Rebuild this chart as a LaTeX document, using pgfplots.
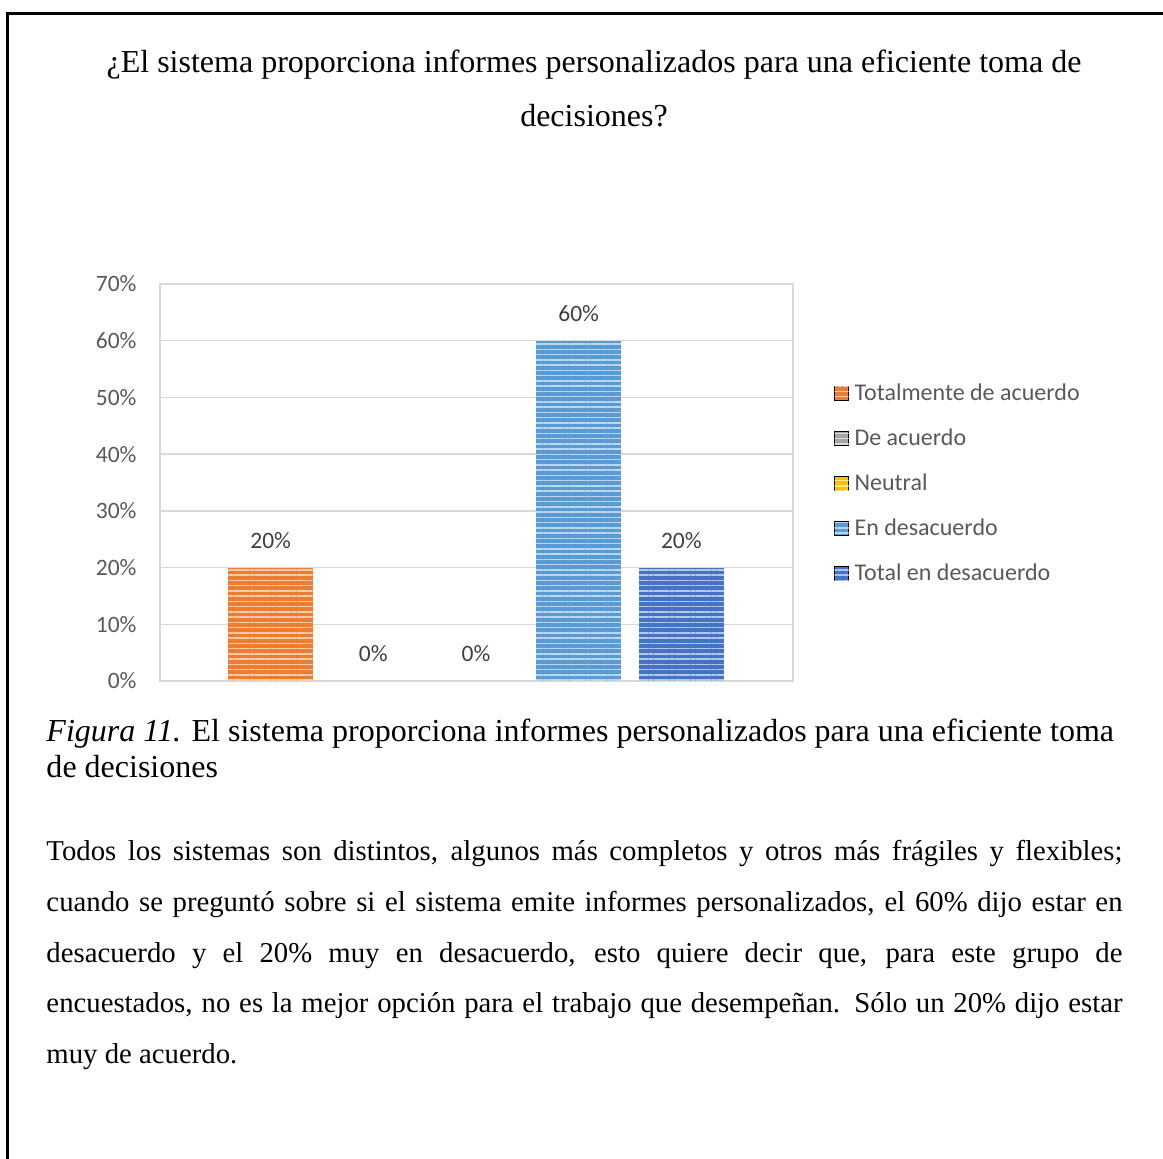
\documentclass[border=0pt]{standalone}
\usepackage{pgfplots}
\pgfplotsset{compat=1.18}
\usetikzlibrary{patterns.meta}
\usepackage{fontspec}
\setmainfont{Liberation Serif}
\newfontfamily\calibri{Carlito}
\definecolor{cOr}{HTML}{ED7D31}
\definecolor{cGr}{HTML}{A5A5A5}
\definecolor{cYe}{HTML}{FFC000}
\definecolor{cLb}{HTML}{5B9BD5}
\definecolor{cDb}{HTML}{4472C4}
\definecolor{cGrid}{HTML}{D9D9D9}
\definecolor{cTick}{HTML}{595959}
\definecolor{cLab}{HTML}{404040}
\pgfplotsset{
  sqlegend/.style={legend image code/.code={\draw[##1] (0pt,-2.8pt) rectangle (5.6pt,2.8pt); \path (8pt,0pt);}},
  stripe/.style={draw=none, fill=#1, postaction={pattern={Lines[angle=0,distance=2.1pt,line width=0.6pt]}, pattern color=#1!40!white}},
}
\newcommand\chartfont{\calibri\fontsize{9.4}{11}\selectfont}
\newcommand\legfont{\calibri\fontsize{9.6}{11}\selectfont}
\begin{document}
\begin{tikzpicture}[x=0.4pt,y=0.4pt]
\useasboundingbox (0,0) rectangle (1163,1158);
\draw[line width=1.1pt] (7.5,-20) -- (7.5,1144.5) -- (1180,1144.5);
\node[anchor=base, inner sep=0pt, font=\fontsize{12.8}{14}\selectfont] at (594,1085) {¿El sistema proporciona informes personalizados para una eficiente toma de};
\node[anchor=base, inner sep=0pt, font=\fontsize{12.8}{14}\selectfont] at (594,1031) {decisiones?};
\node[anchor=base west, inner sep=0pt, font=\fontsize{12.8}{14}\selectfont] at (46,416) {\textit{Figura 11.} El sistema proporciona informes personalizados para una eficiente toma};
\node[anchor=base west, inner sep=0pt, font=\fontsize{12.8}{14}\selectfont] at (46,380) {de decisiones};
\node[anchor=base west, inner sep=0pt] at (46,297) {\parbox[t]{430.4pt}{\fontsize{11.5}{20.25}\selectfont\hyphenpenalty=10000\tolerance=10000\emergencystretch=20pt
Todos los sistemas son distintos, algunos más completos y otros más frágiles y flexibles;\linebreak
cuando se preguntó sobre si el sistema emite informes personalizados, el 60\% dijo estar en\linebreak
desacuerdo y el 20\% muy en desacuerdo, esto quiere decir que, para este grupo de\linebreak
encuestados, no es la mejor opción para el trabajo que desempeñan. Sólo un 20\% dijo estar\linebreak
muy de acuerdo.}};
\begin{axis}[
  at={(64pt,190.8pt)}, anchor=south west,
  width=253.2pt, height=158.8pt, scale only axis,
  xmin=-1.078, xmax=5.088, ymin=0, ymax=70,
  xtick=\empty, ytick={0,10,...,70},
  yticklabel={\pgfmathprintnumber{\tick}\%},
  ymajorgrids, grid style={draw=cGrid, line width=0.6pt},
  axis line style={draw=cGrid, line width=0.6pt},
  major tick length=0pt,
  tick label style={font=\chartfont, text=cTick},
  /pgf/number format/assume math mode=true,
  yticklabel style={inner sep=0pt, xshift=-9.2pt},
  nodes near coords={\pgfmathprintnumber{\pgfplotspointmeta}\%},
  every node near coord/.append style={font=\chartfont, text=cLab, anchor=south, inner sep=0pt, yshift=7.4pt},
  legend style={at={(1.0648,0.4962)}, anchor=west, draw=none, fill=none, inner sep=0pt, outer sep=0pt,
    font=\legfont, text=cTick, row sep=10pt,
    nodes={inner sep=0pt, text height=6.5pt, text depth=1.5pt}},
  legend cell align=left,
]
\addplot[ybar, bar width=34pt, bar shift=0pt, stripe=cOr, sqlegend] coordinates {(0,20)};
\addplot[ybar, bar width=0pt, bar shift=0pt, stripe=cGr, sqlegend] coordinates {(1,0)};
\addplot[ybar, bar width=0pt, bar shift=0pt, stripe=cYe, sqlegend] coordinates {(2,0)};
\addplot[ybar, bar width=34pt, bar shift=0pt, stripe=cLb, sqlegend] coordinates {(3,60)};
\addplot[ybar, bar width=34pt, bar shift=0pt, stripe=cDb, sqlegend] coordinates {(4,20)};
\legend{Totalmente de acuerdo, De acuerdo, Neutral, En desacuerdo, Total en desacuerdo}
\end{axis}
\end{tikzpicture}
\end{document}
